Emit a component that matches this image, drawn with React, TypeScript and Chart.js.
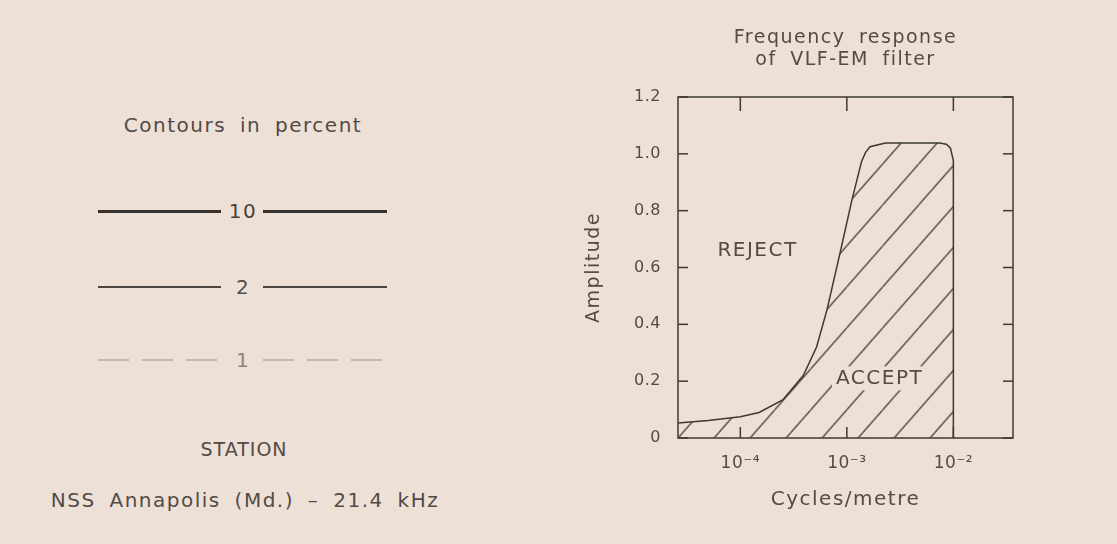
import React, { useEffect, useRef } from 'react';
import { Chart, registerables } from 'chart.js';

Chart.register(...registerables);

// ---- data ----
const frequency = [2.6e-5, 5e-5, 1e-4, 1.5e-4, 2.5e-4, 3.9e-4, 5.2e-4, 6.5e-4, 8.5e-4, 1.12e-3, 1.38e-3, 1.5e-3, 1.65e-3, 2.3e-3, 7.4e-3, 8.6e-3, 9.4e-3, 1e-2, 1e-2];
const amplitude = [0.053, 0.062, 0.075, 0.09, 0.134, 0.22, 0.32, 0.45, 0.64, 0.84, 0.975, 1.005, 1.025, 1.038, 1.038, 1.034, 1.02, 0.975, 0];
const xTickValues = [1e-4, 1e-3, 1e-2];
const xTickLabels = ['10⁻⁴', '10⁻³', '10⁻²'];
const yTickValues = [0, 0.2, 0.4, 0.6, 0.8, 1.0, 1.2];
const yTickLabels = ['0', '0.2', '0.4', '0.6', '0.8', '1.0', '1.2'];
const xRange = [2.6e-5, 0.0363];
const yRange = [0, 1.2];
const regionLabels = ['REJECT', 'ACCEPT'];
const regionX = [1.45e-4, 2.03e-3];
const regionY = [0.658, 0.21];
const regionMasked = [false, true];
const titleLines = ['Frequency response', 'of VLF-EM filter'];
const xAxisTitle = 'Cycles/metre';
const yAxisTitle = 'Amplitude';
const contourLevels = ['10', '2', '1'];
const legendTitle = 'Contours in percent';
const stationHeading = 'STATION';
const stationName = 'NSS Annapolis (Md.) – 21.4 kHz';

// ---- styles ----
const BG = '#ede0d7';
const INK = '#3d3834';
const TEXT = '#524b46';
const FONT = '"DejaVu Sans", "Liberation Sans", sans-serif';

const rowStyles = [
  { y: 211, thick: 3, color: '#38322f', dashed: false, labelColor: '#47413d' },
  { y: 287, thick: 1.5, color: '#4a4440', dashed: false, labelColor: '#554e49' },
  { y: 360, thick: 1.5, color: '#c3b7af', dashed: true, labelColor: '#8e847e' },
];

const textStyle: React.CSSProperties = {
  position: 'absolute',
  transform: 'translate(-50%, -50%)',
  whiteSpace: 'nowrap',
  fontSize: 20,
  lineHeight: '24px',
  letterSpacing: '1.5px',
  wordSpacing: '6px',
  color: TEXT,
};

export default function App() {
  const ref = useRef<HTMLCanvasElement>(null);

  useEffect(() => {
    const canvas = ref.current!;
    const ctx = canvas.getContext('2d')!;

    const tile = document.createElement('canvas');
    tile.width = 36;
    tile.height = 41;
    const tctx = tile.getContext('2d')!;
    tctx.strokeStyle = '#433d39';
    tctx.lineWidth = 1.3;
    for (let n = 0; n <= 2; n++) {
      tctx.beginPath();
      tctx.moveTo(n * 36, 0);
      tctx.lineTo((n - 1) * 36, 41);
      tctx.stroke();
    }
    const pattern = ctx.createPattern(tile, 'repeat')!;
    pattern.setTransform(new DOMMatrix().translate(-1.4, 0));

    const spacingPlugin = {
      id: 'spacing',
      beforeDraw(chart: any) {
        const c = chart.ctx as any;
        c.letterSpacing = '1.5px';
        c.wordSpacing = '6px';
        Object.values(chart.scales).forEach((scale: any) => {
          if (scale.__patched) return;
          const orig = scale.drawLabels.bind(scale);
          scale.drawLabels = (ca: any) => {
            const cc = scale.ctx as any;
            const prev = cc.letterSpacing;
            cc.letterSpacing = '0.5px';
            orig(ca);
            cc.letterSpacing = prev;
          };
          scale.__patched = true;
        });
      },
    };

    const framePlugin = {
      id: 'frame',
      afterDatasetsDraw(chart: any) {
        const c = chart.ctx;
        const { left, right, top, bottom } = chart.chartArea;
        const x = chart.scales.x;
        const y = chart.scales.y;
        c.save();
        c.strokeStyle = INK;
        c.lineWidth = 1.5;
        c.strokeRect(left, top, right - left, bottom - top);
        const seg = (x1: number, y1: number, x2: number, y2: number) => {
          c.beginPath();
          c.moveTo(x1, y1);
          c.lineTo(x2, y2);
          c.stroke();
        };
        yTickValues.forEach((v) => {
          const py = y.getPixelForValue(v);
          seg(left, py, left + 10, py);
          seg(right, py, right - 10, py);
        });
        xTickValues.forEach((v) => {
          const px = x.getPixelForValue(v);
          seg(px, bottom, px, bottom - 11);
          seg(px, top, px, top + 14);
        });
        c.font = `20px ${FONT}`;
        c.textAlign = 'center';
        c.textBaseline = 'middle';
        regionLabels.forEach((t, i) => {
          const px = x.getPixelForValue(regionX[i]);
          const py = y.getPixelForValue(regionY[i]);
          if (regionMasked[i]) {
            const w = c.measureText(t).width;
            c.fillStyle = BG;
            c.fillRect(px - w / 2 - 4, py - 12, w + 8, 24);
          }
          c.fillStyle = TEXT;
          c.fillText(t, px, py);
        });
        c.restore();
      },
    };

    const chart = new Chart(canvas, {
      type: 'line',
      data: {
        datasets: [
          {
            data: frequency.map((f, i) => ({ x: f, y: amplitude[i] })),
            borderColor: INK,
            borderWidth: 1.5,
            pointRadius: 0,
            tension: 0,
            fill: 'origin',
            backgroundColor: pattern,
          },
        ],
      },
      options: {
        responsive: false,
        animation: false,
        layout: { padding: { left: 0, right: 67, top: 0, bottom: 0 } },
        font: { family: FONT },
        plugins: {
          legend: { display: false },
          tooltip: { enabled: false },
          title: {
            display: true,
            text: titleLines,
            fullSize: false,
            color: TEXT,
            font: { family: FONT, size: 19, weight: 'normal', lineHeight: 22 / 19 },
            padding: { top: 27, bottom: 26 },
          },
        },
        scales: {
          x: {
            type: 'logarithmic',
            position: 'bottom',
            min: xRange[0],
            max: xRange[1],
            grid: { display: false, drawTicks: false },
            border: { display: false },
            afterBuildTicks: (s: any) => {
              s.ticks = xTickValues.map((v) => ({ value: v }));
            },
            afterFit: (s: any) => {
              s.height = 106;
            },
            ticks: {
              callback: (_v: any, i: number) => xTickLabels[i],
              autoSkip: false,
              maxRotation: 0,
              padding: 15,
              color: TEXT,
              font: { family: FONT, size: 17 },
            },
            title: {
              display: true,
              text: xAxisTitle,
              color: TEXT,
              font: { family: FONT, size: 20 },
              padding: { top: 0, bottom: 32 },
            },
          },
          y: {
            type: 'linear',
            position: 'left',
            min: yRange[0],
            max: yRange[1],
            grid: { display: false, drawTicks: false },
            border: { display: false },
            afterBuildTicks: (s: any) => {
              s.ticks = yTickValues.map((v) => ({ value: v }));
            },
            afterFit: (s: any) => {
              s.width = 118;
            },
            ticks: {
              callback: (_v: any, i: number) => yTickLabels[i],
              padding: 17,
              color: TEXT,
              font: { family: FONT, size: 16 },
            },
            title: {
              display: true,
              text: yAxisTitle,
              color: TEXT,
              font: { family: FONT, size: 19 },
              padding: { top: 23, bottom: 0 },
            },
          },
        },
      } as any,
      plugins: [spacingPlugin, framePlugin],
    });

    return () => chart.destroy();
  }, []);

  const segLeft = [98, 221];
  const segRight = [263, 387];

  return (
    <div
      style={{
        position: 'fixed',
        inset: 0,
        background: BG,
        overflow: 'hidden',
        fontFamily: FONT,
      }}
    >
      <div style={{ ...textStyle, left: 243, top: 125 }}>{legendTitle}</div>
      {contourLevels.map((lvl, i) => {
        const st = rowStyles[i];
        const lineStyle = (a: number, b: number): React.CSSProperties => ({
          position: 'absolute',
          left: a,
          width: b - a,
          top: st.y - st.thick / 2,
          height: st.thick,
          background: st.dashed
            ? `repeating-linear-gradient(to right, ${st.color} 0px, ${st.color} 31px, transparent 31px, transparent 44px)`
            : st.color,
        });
        return (
          <React.Fragment key={lvl}>
            <div style={lineStyle(segLeft[0], segLeft[1])} />
            <div style={{ ...textStyle, left: 243, top: st.y, color: st.labelColor }}>{lvl}</div>
            <div style={lineStyle(segRight[0], segRight[1])} />
          </React.Fragment>
        );
      })}
      <div style={{ ...textStyle, left: 244, top: 449, fontSize: 19, letterSpacing: '1px' }}>{stationHeading}</div>
      <div style={{ ...textStyle, left: 245, top: 500 }}>{stationName}</div>
      <canvas ref={ref} width={520} height={544} style={{ position: 'absolute', left: 560, top: 0 }} />
    </div>
  );
}
